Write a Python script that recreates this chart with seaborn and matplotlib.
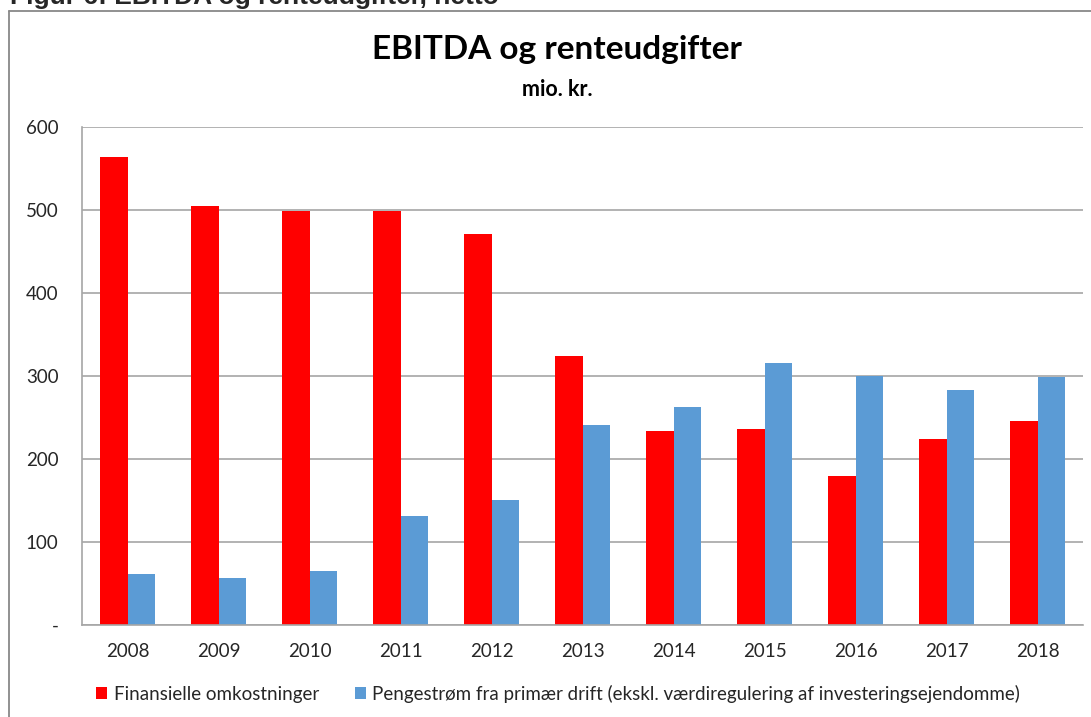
import pandas as pd
import matplotlib.pyplot as plt
import seaborn as sns
from matplotlib.lines import Line2D

years = ['2008', '2009', '2010', '2011', '2012', '2013', '2014', '2015', '2016', '2017', '2018']
finansielle = [564, 505, 499, 499, 471, 324, 234, 236, 180, 224, 246]
pengestrom = [61, 57, 65, 131, 151, 241, 263, 316, 300, 283, 299]

lbl_fin = 'Finansielle omkostninger'
lbl_pen = 'Pengestrøm fra primær drift (ekskl. værdiregulering af investeringsejendomme)'

df = pd.DataFrame({
    'year': years * 2,
    'value': finansielle + pengestrom,
    'serie': [lbl_fin] * len(years) + [lbl_pen] * len(years),
})

sns.set_style('white')
plt.rcParams['font.family'] = ['Lato', 'DejaVu Sans']

fig = plt.figure(figsize=(10.91, 7.17), dpi=100)
ax = fig.add_axes([82 / 1091, 1 - 625 / 717, (1083 - 82) / 1091, (625 - 127) / 717])

palette = {lbl_fin: '#FF0000', lbl_pen: '#5B9BD5'}
sns.barplot(data=df, x='year', y='value', hue='serie', palette=palette,
            width=0.6, gap=0, saturation=1, ax=ax, linewidth=0)

# axes styling, excel-like
ax.set_ylim(0, 600)
ax.set_xlim(-0.5, len(years) - 0.5)
ax.set_yticks([0, 100, 200, 300, 400, 500, 600])
ax.set_yticklabels(['-', '100', '200', '300', '400', '500', '600'])
ax.yaxis.grid(True, color='#a6a6a6', linewidth=1.2)
ax.set_axisbelow(True)
for s in ['top', 'right']:
    ax.spines[s].set_visible(False)
ax.spines['left'].set_color('#a6a6a6')
ax.spines['bottom'].set_color('#a6a6a6')
ax.spines['left'].set_linewidth(1.2)
ax.spines['bottom'].set_linewidth(1.2)
ax.tick_params(axis='y', length=5, color='#a6a6a6', pad=12, labelsize=13.5, labelcolor='#262626')
ax.tick_params(axis='x', which='major', length=0, pad=13, labelsize=13.5, labelcolor='#262626')
ax.set_xticks([i - 0.5 for i in range(len(years) + 1)], minor=True)
ax.tick_params(axis='x', which='minor', length=5, color='#a6a6a6', width=1.2)
ax.set_xlabel('')
ax.set_ylabel('')

handles, labels = ax.get_legend_handles_labels()
ax.legend(handles, labels, loc='center left', bbox_to_anchor=(96 / 1091, 1 - 694 / 717),
          bbox_transform=fig.transFigure, ncol=2, frameon=False, fontsize=13.5,
          handlelength=0.6, handleheight=0.6, handletextpad=0.35, columnspacing=1.9,
          borderaxespad=0, borderpad=0)

# titles
fig.text(557 / 1091, 1 - 50 / 717, 'EBITDA og renteudgifter', ha='center', va='center',
         fontsize=24, fontweight='bold', color='black')
fig.text(557 / 1091, 1 - 89 / 717, 'mio. kr.', ha='center', va='center',
         fontsize=15.5, fontweight='bold', color='black')

# caption cut off by the top edge, as in the source page
fig.text(10 / 1091, 1 - 4 / 717, 'Figur 6: EBITDA og renteudgifter, netto', ha='left',
         va='baseline', fontsize=19, fontweight='bold', family='Liberation Sans')

# chart frame
fig.add_artist(Line2D([9 / 1091, 1], [1 - 11 / 717, 1 - 11 / 717], transform=fig.transFigure,
                      color='#888888', linewidth=1.3))
fig.add_artist(Line2D([9 / 1091, 9 / 1091], [0, 1 - 11 / 717], transform=fig.transFigure,
                      color='#888888', linewidth=1.3))

fig.savefig('out.png', dpi=100, facecolor='white')
